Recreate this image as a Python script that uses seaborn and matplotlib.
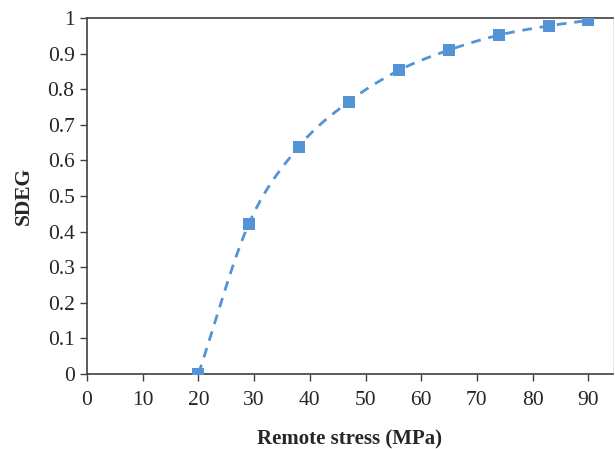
import numpy as np
import pandas as pd
import matplotlib
matplotlib.use("Agg")
import matplotlib.pyplot as plt
import seaborn as sns

# data
remote_stress = [20, 29, 38, 47, 56, 65, 74, 83, 90]
sdeg = [0.0, 0.42, 0.638, 0.765, 0.853, 0.91, 0.952, 0.978, 0.993]
x_ticks = [0, 10, 20, 30, 40, 50, 60, 70, 80, 90]
y_ticks = [0, 0.1, 0.2, 0.3, 0.4, 0.5, 0.6, 0.7, 0.8, 0.9, 1]

df = pd.DataFrame({"stress": remote_stress, "sdeg": sdeg})

sns.set_style("ticks")
plt.rcParams["font.family"] = ["Liberation Serif", "DejaVu Serif"]

color = "#5393d6"


def smooth(xs, ys, n=30):
    # Catmull-Rom curve through the points (Excel-like "smoothed line")
    xs = np.asarray(xs, float)
    ys = np.asarray(ys, float)
    px = np.concatenate([[2 * xs[0] - xs[1]], xs, [2 * xs[-1] - xs[-2]]])
    py = np.concatenate([[2 * ys[0] - ys[1]], ys, [2 * ys[-1] - ys[-2]]])
    ox, oy = [], []
    t = np.linspace(0, 1, n)
    for i in range(1, len(px) - 2):
        for p, out in ((px, ox), (py, oy)):
            p0, p1, p2, p3 = p[i - 1], p[i], p[i + 1], p[i + 2]
            m1 = (p2 - p0) / 6
            m2 = (p3 - p1) / 6
            c = ((1 - t) ** 3 * p1 + 3 * (1 - t) ** 2 * t * (p1 + m1)
                 + 3 * (1 - t) * t ** 2 * (p2 - m2) + t ** 3 * p2)
            out.extend(c)
    return np.array(ox), np.array(oy)


fig = plt.figure(figsize=(6.15, 4.49), dpi=100)
ax = fig.add_axes([0.1415, 0.167, 0.855, 0.793])

cx, cy = smooth(df["stress"], df["sdeg"])
ax.plot(cx, cy, color=color, linestyle=(0, (3.5, 2.8)), linewidth=2.0)
sns.scatterplot(x="stress", y="sdeg", data=df, marker="s", s=70,
                color=color, edgecolor=color, linewidth=0, ax=ax, zorder=3)

ax.set_xlim(0, 94.4)
ax.set_ylim(0, 1)
ax.set_xticks(x_ticks)
ax.set_yticks(y_ticks)
ax.set_yticklabels([f"{v:g}" for v in y_ticks])
ax.tick_params(labelsize=15.5, length=5, width=1, color="#404040")
ax.tick_params(axis="x", pad=7)
ax.tick_params(axis="y", pad=4)

for s in ["left", "bottom", "top"]:
    ax.spines[s].set_color("#404040")
    ax.spines[s].set_linewidth(1.2)
ax.spines["right"].set_color("#e8e8e8")

ax.set_xlabel("Remote stress (MPa)", fontsize=15, fontweight="bold", labelpad=14)
ax.set_ylabel("SDEG", fontsize=15.5, fontweight="bold", labelpad=10)

plt.savefig("out.png", dpi=100)
